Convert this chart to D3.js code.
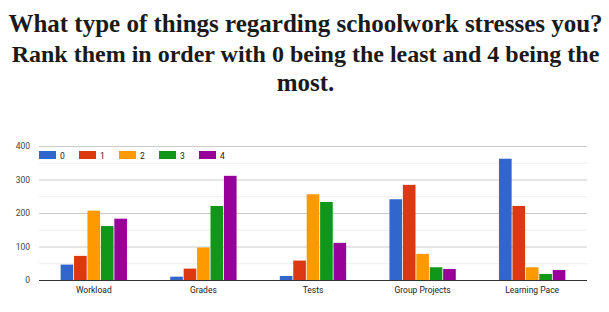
<!DOCTYPE html>
<html>
<head>
<meta charset="utf-8">
<script src="https://cdn.jsdelivr.net/npm/d3@7"></script>
<style>
  body { margin: 0; background: #fff; }
</style>
</head>
<body>
<svg id="chart-svg" width="609" height="312"></svg>
<script>
var categories = ["Workload", "Grades", "Tests", "Group Projects", "Learning Pace"];
var seriesNames = ["0", "1", "2", "3", "4"];
var rank0 = [46, 10, 12, 241, 362];
var rank1 = [72, 34, 58, 284, 221];
var rank2 = [207, 97, 256, 78, 38];
var rank3 = [161, 221, 233, 38, 18];
var rank4 = [183, 311, 111, 33, 30];
var yTicks = [0, 100, 200, 300, 400];
var titleLines = [
  "What type of things regarding schoolwork stresses you?",
  "Rank them in order with 0 being the least and 4 being the",
  "most."
];

var colors = ["#3366cc", "#dc3912", "#ff9900", "#109618", "#990099"];
var series = [rank0, rank1, rank2, rank3, rank4];

var svg = d3.select("#chart-svg");
var width = +svg.attr("width");

// title; second line sized down a touch so it fits like the original
var titleSizes = [25, 24, 25];
svg.selectAll(".title")
  .data(titleLines)
  .enter().append("text")
  .attr("class", "title")
  .attr("x", width / 2 + 1)
  .attr("y", (d, i) => 32 + i * 29.5)
  .attr("text-anchor", "middle")
  .style("font-family", "'Liberation Serif'")
  .style("font-weight", "bold")
  .style("font-size", (d, i) => titleSizes[i] + "px")
  .style("fill", "#1a1a1a")
  .text(d => d);

var plotLeft = 39, plotRight = 587, plotTop = 146, plotBottom = 280;

var x0 = d3.scaleBand().domain(categories).range([plotLeft, plotRight]).paddingInner(0.38).paddingOuter(0.19);
var x1 = d3.scaleBand().domain(seriesNames).range([0, x0.bandwidth()]).padding(0.06);
var y = d3.scaleLinear().domain([0, 400]).range([plotBottom, plotTop]);

// minor gridlines
svg.selectAll(".minor")
  .data(d3.range(50, 400, 100))
  .enter().append("line")
  .attr("x1", plotLeft).attr("x2", plotRight)
  .attr("y1", d => y(d) + 0.5).attr("y2", d => y(d) + 0.5)
  .attr("stroke", "#ececec");

// major gridlines
svg.selectAll(".major")
  .data(yTicks.slice(1))
  .enter().append("line")
  .attr("x1", plotLeft).attr("x2", plotRight)
  .attr("y1", d => y(d) + 0.5).attr("y2", d => y(d) + 0.5)
  .attr("stroke", "#cccccc");

// y labels
svg.selectAll(".ylab")
  .data(yTicks)
  .enter().append("text")
  .attr("x", plotLeft - 9)
  .attr("y", d => y(d) + 3)
  .attr("text-anchor", "end")
  .style("font-family", "Roboto, Arial, sans-serif")
  .style("font-size", "8.5px")
  .style("fill", "#444")
  .text(d => d);

// bars
var groups = svg.selectAll(".grp")
  .data(categories)
  .enter().append("g")
  .attr("transform", d => "translate(" + x0(d) + ",0)");

groups.selectAll("rect")
  .data((d, i) => seriesNames.map((s, j) => ({ s: s, v: series[j][i], c: colors[j] })))
  .enter().append("rect")
  .attr("x", d => x1(d.s))
  .attr("width", x1.bandwidth())
  .attr("y", d => y(d.v))
  .attr("height", d => y(0) - y(d.v))
  .attr("fill", d => d.c);

// baseline
svg.append("line")
  .attr("x1", plotLeft).attr("x2", plotRight)
  .attr("y1", plotBottom + 0.5).attr("y2", plotBottom + 0.5)
  .attr("stroke", "#333");

// category labels
svg.selectAll(".xlab")
  .data(categories)
  .enter().append("text")
  .attr("x", d => x0(d) + x0.bandwidth() / 2)
  .attr("y", plotBottom + 13)
  .attr("text-anchor", "middle")
  .style("font-family", "Roboto, Arial, sans-serif")
  .style("font-size", "8.5px")
  .style("fill", "#222")
  .text(d => d);

// legend
var legend = svg.selectAll(".leg")
  .data(seriesNames)
  .enter().append("g")
  .attr("transform", (d, i) => "translate(" + (plotLeft + i * 40) + ",151)");

legend.append("rect")
  .attr("width", 17).attr("height", 8)
  .attr("fill", (d, i) => colors[i]);

legend.append("text")
  .attr("x", 21).attr("y", 7.5)
  .style("font-family", "Roboto, Arial, sans-serif")
  .style("font-size", "8.5px")
  .style("fill", "#222")
  .text(d => d);
</script>
</body>
</html>
